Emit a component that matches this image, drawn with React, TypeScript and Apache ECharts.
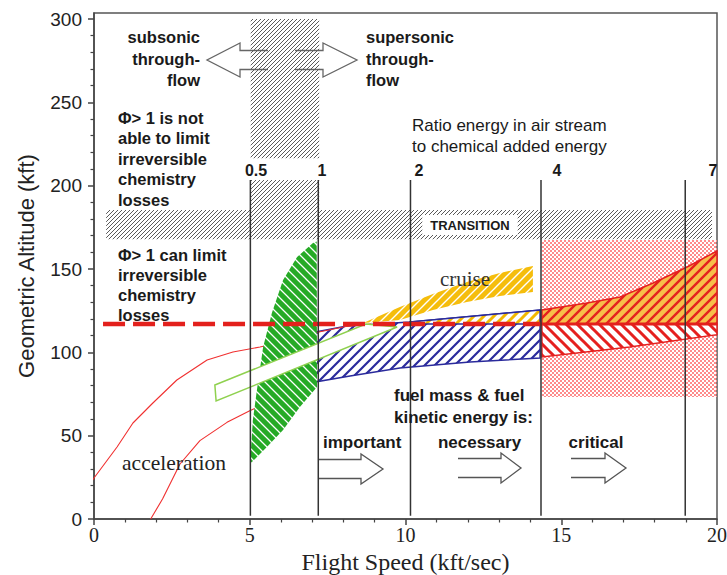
import React, { useEffect, useRef } from 'react';
import * as echarts from 'echarts';

// ---------------- data (x: flight speed kft/sec, y: altitude kft) ----------------
const xTickValues = [0, 5, 10, 15, 20];
const yTickValues = [0, 50, 100, 150, 200, 250, 300];
const yMinorTickValues = [10, 20, 30, 40, 60, 70, 80, 90, 110, 120, 130, 140, 160, 170, 180, 190, 210, 220, 230, 240, 260, 270, 280, 290];

const energyRatioLabels = ['0.5', '1', '2', '4', '7'];
const energyRatioSpeeds = [5.02, 7.2, 10.16, 14.35, 18.98];
const energyLineRange = [2, 203.4];

const accelerationUpper = [[-0.2, 19], [0, 24.6], [0.74, 43.2], [1.25, 57.6], [1.89, 69.6], [2.66, 83.4], [3.63, 95.4], [4.46, 100.2], [5.33, 103.2], [6.2, 107], [7.1, 111.8], [8.12, 115.6], [8.9, 117]];
const accelerationLower = [[1.82, 0], [2.2, 12], [2.76, 33], [3.4, 47], [4.27, 58], [5.0, 65], [5.6, 70], [6.4, 75.5], [7.1, 80.5]];

const greenZone = [[5.01, 33.6], [5.1, 59.4], [5.23, 77.4], [5.43, 103.2], [5.71, 123.6], [6.07, 143.4], [6.52, 157.2], [7.03, 165.6], [7.15, 166.5], [7.16, 79.2], [6.61, 67.2], [6.07, 53.4], [5.55, 43.2], [5.07, 34.2]];
const blueZone = [[7.09, 82.2], [7.09, 112.2], [8.12, 115.8], [10.14, 118.2], [12.23, 121.8], [14.32, 125.4], [14.32, 96.6], [12.07, 94.2], [9.82, 90.6], [8.22, 85.8]];
const blueCruiseOverlap = [[10.14, 118.2], [12.23, 121.8], [14.32, 125.4], [14.32, 117], [10.14, 117]];
const cruiseZone = [[8.64, 117.6], [9.82, 127.2], [10.88, 135], [11.97, 142.2], [13.03, 147.6], [14.09, 151.8], [14.09, 136.2], [13.03, 133.8], [11.97, 130.2], [10.88, 125.4], [9.82, 119.4]];
const whiteCorridor = [[3.88, 80.4], [8.73, 117], [9.73, 115.2], [3.92, 70.8]];
const redUpperZone = [[14.38, 117], [14.38, 125.4], [15.83, 129.6], [16.89, 133.2], [17.95, 141.6], [19.04, 151.2], [20, 160.8], [20, 117]];
const redLowerZone = [[14.38, 117], [20, 117], [20, 110.6], [17.2, 103.2], [14.38, 97.2]];
const pinkZone = [[14.38, 73.2], [20, 167.4]];
const transitionBand = [[0.39, 167.8], [19.84, 185.4]];
const throughflowBandUpper = [[5.03, 216.4], [7.23, 300]];
const throughflowBandLower = [[5.03, 185.4], [7.23, 203.4]];
const cruiseDashed = [[0.29, 117], [14.36, 117]];
const cruiseSolid = [[14.36, 117], [20, 117]];

// ---------------- helpers ----------------
function hatch(size: number, color: string, lw: number, dir: '/' | '\\', bg: string | null) {
  const c = document.createElement('canvas');
  c.width = size; c.height = size;
  const ctx = c.getContext('2d')!;
  if (bg) { ctx.fillStyle = bg; ctx.fillRect(0, 0, size, size); }
  ctx.strokeStyle = color; ctx.lineWidth = lw;
  ctx.beginPath();
  if (dir === '/') {
    for (const k of [0, size, 2 * size]) { ctx.moveTo(-size, k + size); ctx.lineTo(2 * size, k - 2 * size); }
  } else {
    for (const k of [-size, 0, size]) { ctx.moveTo(-size, -size - k); ctx.lineTo(2 * size, 2 * size - k); }
  }
  ctx.stroke();
  return { image: c.toDataURL(), repeat: 'repeat', imageWidth: size, imageHeight: size };
}
function dots() {
  const c = document.createElement('canvas');
  c.width = 4; c.height = 4;
  const ctx = c.getContext('2d')!;
  ctx.fillStyle = '#ff8a8a';
  ctx.fillRect(0, 0, 2, 2); ctx.fillRect(2, 2, 2, 2);
  return { image: c.toDataURL(), repeat: 'repeat', imageWidth: 4, imageHeight: 4 };
}

function polySeries(pts: number[][], z: number, style: any) {
  return {
    type: 'custom', coordinateSystem: 'cartesian2d', z, silent: true,
    data: [pts[0]],
    renderItem: (_p: any, api: any) => ({
      type: 'polygon',
      shape: { points: pts.map((p) => api.coord(p)) },
      style,
    }),
  };
}
function rectSeries(r: number[][], z: number, style: any) {
  return {
    type: 'custom', coordinateSystem: 'cartesian2d', z, silent: true,
    data: [r[0]],
    renderItem: (_p: any, api: any) => {
      const a = api.coord(r[0]);
      const b = api.coord(r[1]);
      return {
        type: 'rect',
        shape: { x: Math.min(a[0], b[0]), y: Math.min(a[1], b[1]), width: Math.abs(b[0] - a[0]), height: Math.abs(b[1] - a[1]) },
        style,
      };
    },
  };
}

// arrow outlines (annotation, pixel space)
function arrowPts(x0: number, xh: number, xt: number, yc: number, sh: number, hh: number) {
  return [[x0, yc - sh], [xh, yc - sh], [xh, yc - hh], [xt, yc], [xh, yc + hh], [xh, yc + sh], [x0, yc + sh]];
}
function arrowGraphic(pts: number[][], stroke: string) {
  return {
    type: 'group', z: 7, silent: true,
    children: [
      { type: 'polygon', z: 7, shape: { points: pts }, style: { fill: '#ffffff', stroke: 'none' } },
      { type: 'polyline', z: 7, shape: { points: pts }, style: { fill: 'none', stroke, lineWidth: 1.3 } },
    ],
  };
}

const SANS = '"Liberation Sans", Arial, sans-serif';
const SERIF = '"Liberation Serif", "Times New Roman", serif';
const INK = '#1a1a1a';

function txt(text: string, x: number, y: number, style: any, extra: any = {}) {
  return {
    type: 'text', x, y, z: 20, silent: true, ...extra,
    style: { text, fill: INK, fontFamily: SANS, ...style },
  };
}

const labelPixelX = [256, 322, 419, 557, 713];

export default function App() {
  const ref = useRef<HTMLDivElement>(null);
  useEffect(() => {
    if (!ref.current) return;
    const chart = echarts.init(ref.current, null, { renderer: 'svg' });
    const P = {
      gray: hatch(4, '#5a5a5a', 1.0, '/', null),
      green: hatch(9, '#ffffff', 1.3, '\\', '#26aa26'),
      blue: hatch(10, '#2a2a9c', 2.2, '/', null),
      cruise: hatch(9, '#ffffff', 1.4, '/', '#f5bd0c'),
      overlap: hatch(10, '#f2b800', 3, '/', '#ffffff'),
      redUp: hatch(10, '#e5201f', 2.4, '/', '#f7bd4a'),
      redLow: hatch(11, '#e5201f', 3, '\\', '#ffffff'),
      pink: dots(),
    };

    const series: any[] = [
      rectSeries(pinkZone, 1, { fill: P.pink }),
      rectSeries(transitionBand, 8, { fill: P.gray }),
      rectSeries(throughflowBandUpper, 8, { fill: P.gray }),
      rectSeries(throughflowBandLower, 8, { fill: P.gray }),
      polySeries(redUpperZone, 3, { fill: P.redUp, stroke: '#e5201f', lineWidth: 1.5 }),
      polySeries(redLowerZone, 3, { fill: P.redLow, stroke: '#e5201f', lineWidth: 1.5 }),
      polySeries(blueZone, 3, { fill: P.blue, stroke: '#2a2a9c', lineWidth: 1.5 }),
      polySeries(blueCruiseOverlap, 4, { fill: P.overlap, stroke: '#2a2a9c', lineWidth: 1.5 }),
      polySeries(cruiseZone, 4, { fill: P.cruise }),
      polySeries(greenZone, 4.5, { fill: P.green }),
      polySeries(whiteCorridor, 5, { fill: '#ffffff', stroke: '#8fd14f', lineWidth: 1.5 }),
      {
        type: 'line', data: accelerationUpper, z: 3.5, silent: true, clip: false,
        symbol: 'none', lineStyle: { color: '#f03030', width: 1.1 },
      },
      {
        type: 'line', data: accelerationLower, z: 3.5, silent: true, clip: false,
        symbol: 'none', lineStyle: { color: '#f03030', width: 1.1 },
      },
      {
        type: 'line', data: cruiseDashed, z: 6, silent: true,
        symbol: 'none', lineStyle: { color: '#e3201c', width: 4.5, type: [22, 8], cap: 'butt' },
      },
      {
        type: 'line', data: cruiseSolid, z: 6, silent: true,
        symbol: 'none', lineStyle: { color: '#e3201c', width: 3 },
      },
      {
        type: 'custom', coordinateSystem: 'cartesian2d', z: 9, silent: true,
        data: energyRatioSpeeds.map((v) => [v, energyLineRange[1]]),
        renderItem: (_p: any, api: any) => {
          const x = api.value(0);
          const a = api.coord([x, energyLineRange[0]]);
          const b = api.coord([x, energyLineRange[1]]);
          return { type: 'line', shape: { x1: a[0], y1: a[1], x2: b[0], y2: b[1] }, style: { stroke: '#333333', lineWidth: 1.5 } };
        },
      },
    ];

    const graphic: any[] = [
      arrowGraphic(arrowPts(268, 240, 207, 60, 9.5, 17), '#666'),
      arrowGraphic(arrowPts(295, 323, 357, 60, 9.5, 17), '#666'),
      arrowGraphic(arrowPts(318.5, 361, 383, 469, 9.5, 15), '#555'),
      arrowGraphic(arrowPts(458, 501, 521, 468, 9.5, 15), '#555'),
      arrowGraphic(arrowPts(571, 605, 626, 468, 9.5, 15), '#555'),
      txt('subsonic\nthrough-\nflow', 200, 26.25, { fontSize: 16.5, fontWeight: 'bold', align: 'right', verticalAlign: 'top', lineHeight: 21.5 }),
      txt('supersonic\nthrough-\nflow', 366, 26.25, { fontSize: 16.5, fontWeight: 'bold', align: 'left', verticalAlign: 'top', lineHeight: 21.5 }),
      txt('Φ> 1 is not\nable to limit\nirreversible\nchemistry\nlosses', 118, 107.5, { fontSize: 16.5, fontWeight: 'bold', align: 'left', verticalAlign: 'top', lineHeight: 20.5 }),
      txt('Φ> 1 can limit\nirreversible\nchemistry\nlosses', 118, 245, { fontSize: 16.5, fontWeight: 'bold', align: 'left', verticalAlign: 'top', lineHeight: 20 }),
      txt('Ratio energy in air stream\nto chemical added energy', 412, 114.5, { fontSize: 17, align: 'left', verticalAlign: 'top', lineHeight: 21 }),
      ...energyRatioLabels.map((l, i) => txt(l, labelPixelX[i], 170, { fontSize: 16, fontWeight: 'bold', align: 'center', verticalAlign: 'middle' })),
      txt('TRANSITION', 470, 225, { fontSize: 13, fontWeight: 'bold', align: 'center', verticalAlign: 'middle', backgroundColor: '#ffffff', padding: [4, 8, 3, 8] }),
      txt('cruise', 465, 279, { fontSize: 21, fontFamily: SERIF, fill: '#333', align: 'center', verticalAlign: 'middle' }),
      txt('acceleration', 174, 463, { fontSize: 21.5, fontFamily: SERIF, fill: '#222', align: 'center', verticalAlign: 'middle' }),
      txt('fuel mass & fuel\nkinetic energy is:', 394, 384, { fontSize: 17, fontWeight: 'bold', align: 'left', verticalAlign: 'top', lineHeight: 22 }),
      txt('important', 323, 442, { fontSize: 17, fontWeight: 'bold', align: 'left', verticalAlign: 'middle' }),
      txt('necessary', 479.5, 442, { fontSize: 17, fontWeight: 'bold', align: 'center', verticalAlign: 'middle' }),
      txt('critical', 596, 442, { fontSize: 17, fontWeight: 'bold', align: 'center', verticalAlign: 'middle' }),
      txt('Geometric Altitude (kft)', 26, 266, { fontSize: 22, fill: '#222', align: 'center', verticalAlign: 'middle' }, { rotation: Math.PI / 2 }),
    ];

    chart.setOption({
      animation: false,
      backgroundColor: '#ffffff',
      grid: { left: 94, right: 10, top: 13, bottom: 56, show: true, borderColor: '#555', borderWidth: 1.5, containLabel: false, outerBoundsMode: 'none' },
      xAxis: {
        type: 'value', min: xTickValues[0], max: xTickValues[xTickValues.length - 1], interval: 5,
        axisLine: { lineStyle: { color: '#444', width: 1.5 } },
        axisTick: { length: 6, lineStyle: { color: '#444', width: 1.5 } },
        minorTick: { show: true, splitNumber: 5, length: 3.5, lineStyle: { color: '#444', width: 1.2 } },
        splitLine: { show: false },
        axisLabel: { fontFamily: SERIF, fontSize: 20, color: '#222', margin: 6 },
        name: 'Flight Speed (kft/sec)', nameLocation: 'middle', nameGap: 31,
        nameTextStyle: { fontFamily: SERIF, fontSize: 24, color: '#222' },
      },
      yAxis: [
        {
          type: 'value', min: 0, max: 303.6,
          axisLine: { lineStyle: { color: '#444', width: 1.5 } },
          axisTick: { length: 6, customValues: yTickValues, lineStyle: { color: '#444', width: 1.5 } },
          splitLine: { show: false },
          axisLabel: { customValues: yTickValues, fontFamily: SANS, fontSize: 19, color: '#222', margin: 12 },
        },
        {
          type: 'value', min: 0, max: 303.6, position: 'left',
          axisLine: { show: false },
          axisTick: { length: 3.5, customValues: yMinorTickValues, lineStyle: { color: '#444', width: 1.2 } },
          splitLine: { show: false },
          axisLabel: { show: false },
        },
      ],
      series,
      graphic,
    });
    return () => chart.dispose();
  }, []);
  return <div ref={ref} style={{ position: 'absolute', left: 0, top: 0, width: 727, height: 575 }} />;
}
